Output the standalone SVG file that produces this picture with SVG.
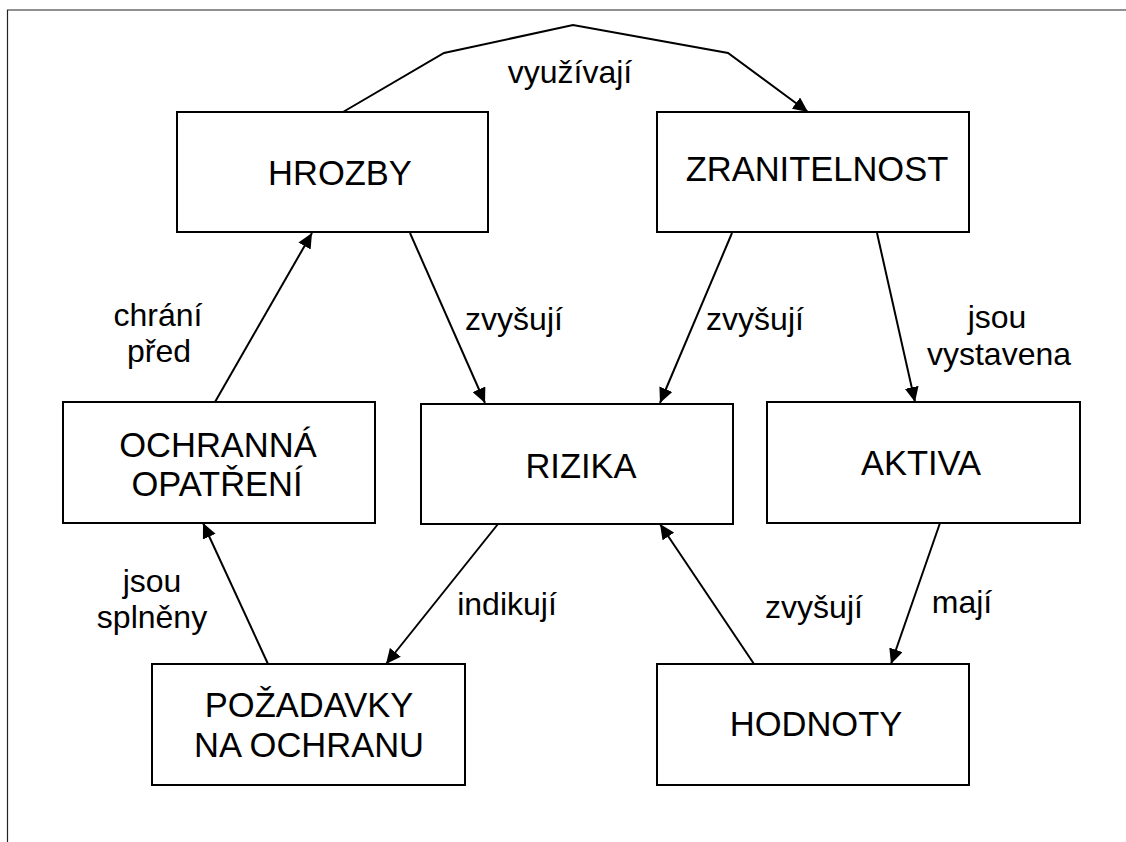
<svg xmlns="http://www.w3.org/2000/svg" width="1126" height="842" viewBox="0 0 1126 842">
<style>
.box{fill:#fff;stroke:#000;stroke-width:2}
.nt{font-family:"Liberation Sans",Arial,sans-serif;font-size:34.5px;fill:#000;text-anchor:middle}
.lt{font-family:"Liberation Sans",Arial,sans-serif;font-size:32px;fill:#000;text-anchor:middle}
.ln{fill:none;stroke:#000;stroke-width:2;marker-end:url(#ah)}
.frame{stroke:#222;stroke-width:1.2;fill:none}
</style>
<defs>
<marker id="ah" viewBox="0 0 15 14" refX="15" refY="7" markerWidth="15" markerHeight="14" markerUnits="userSpaceOnUse" orient="auto">
<path d="M0,0 L15,7 L0,14 z" fill="#000"/>
</marker>
</defs>
<rect width="1126" height="842" fill="#fff"/>
<path class="frame" d="M7.5,842 V10 H1126"/>
<g id="connectors">
<polyline class="ln" points="343,112 444,53 573,25 728,53 808,112"/>
<text class="lt" x="570" y="83">využívají</text>
<line class="ln" x1="410" y1="233" x2="485" y2="403"/>
<text class="lt" x="514" y="330">zvyšují</text>
<line class="ln" x1="732" y1="233" x2="660" y2="403"/>
<text class="lt" x="755" y="330">zvyšují</text>
<line class="ln" x1="877" y1="233" x2="915" y2="402"/>
<text class="lt" x="997" y="328">jsou</text>
<text class="lt" x="999" y="365">vystavena</text>
<line class="ln" x1="215" y1="402" x2="312" y2="233"/>
<text class="lt" x="158" y="326">chrání</text>
<text class="lt" x="159" y="362">před</text>
<line class="ln" x1="268" y1="664" x2="203" y2="523"/>
<text class="lt" x="152" y="592">jsou</text>
<text class="lt" x="152" y="628">splněny</text>
<line class="ln" x1="498" y1="524" x2="386" y2="664"/>
<text class="lt" x="507" y="615">indikují</text>
<line class="ln" x1="754" y1="664" x2="660" y2="524"/>
<text class="lt" x="814" y="618">zvyšují</text>
<line class="ln" x1="940" y1="523" x2="891" y2="664"/>
<text class="lt" x="962" y="613">mají</text>
</g>
<g id="hrozby">
<rect class="box" x="177" y="112" width="311" height="120"/>
<text class="nt" x="340" y="185">HROZBY</text>
</g>
<g id="zranitelnost">
<rect class="box" x="657" y="112" width="312" height="120"/>
<text class="nt" x="817" y="181">ZRANITELNOST</text>
</g>
<g id="ochranna">
<rect class="box" x="63" y="402" width="312" height="121"/>
<text class="nt" x="218" y="457">OCHRANNÁ</text>
<text class="nt" x="217" y="496">OPATŘENÍ</text>
</g>
<g id="rizika">
<rect class="box" x="421" y="404" width="312" height="120"/>
<text class="nt" x="581" y="478">RIZIKA</text>
</g>
<g id="aktiva">
<rect class="box" x="767" y="402" width="313" height="121"/>
<text class="nt" x="921" y="475">AKTIVA</text>
</g>
<g id="pozadavky">
<rect class="box" x="152" y="664" width="313" height="121"/>
<text class="nt" x="309" y="717">POŽADAVKY</text>
<text class="nt" x="309" y="757">NA OCHRANU</text>
</g>
<g id="hodnoty">
<rect class="box" x="657" y="664" width="312" height="121"/>
<text class="nt" x="816" y="736">HODNOTY</text>
</g>
</svg>
